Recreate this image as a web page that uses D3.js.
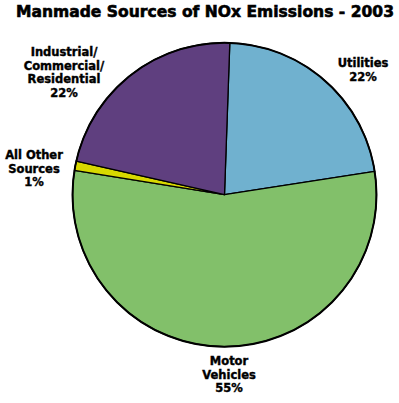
<!DOCTYPE html>
<html>
<head>
<meta charset="utf-8">
<script src="https://cdn.jsdelivr.net/npm/d3@7"></script>
<style>
  body { margin: 0; background: #fff; }
  svg { display: block; font-family: "DejaVu Sans", sans-serif; font-weight: bold; }
</style>
</head>
<body>
<svg id="chart" width="399" height="403"></svg>
<script>
const categories = ['Utilities', 'Motor Vehicles', 'All Other Sources', 'Industrial/Commercial/Residential']
const values = [22, 55, 1, 22]
const labelLines = [
  ['Utilities', '22%'],
  ['Motor', 'Vehicles', '55%'],
  ['All Other', 'Sources', '1%'],
  ['Industrial/', 'Commercial/', 'Residential', '22%']
]
const colors = ['#70b1cf', '#82c06a', '#d8d800', '#5f3f7f']

const svg = d3.select('#chart')
const cx = 224.5, cy = 194.7, r = 152

svg.append('text')
  .attr('x', 205)
  .attr('y', 17)
  .attr('text-anchor', 'middle')
  .attr('font-size', '15.5px')
  .attr('stroke', '#000')
  .attr('stroke-width', 0.6)
  .attr('textLength', 378)
  .attr('lengthAdjust', 'spacingAndGlyphs')
  .text('Manmade Sources of NOx Emissions - 2003')

const pie = d3.pie().sort(null).startAngle(0.035).endAngle(0.035 + 2 * Math.PI)
const arc = d3.arc().innerRadius(0).outerRadius(r)
const arcs = pie(values)

const g = svg.append('g').attr('transform', `translate(${cx},${cy})`)

g.selectAll('path.slice')
  .data(arcs)
  .join('path')
  .attr('class', 'slice')
  .attr('d', arc)
  .attr('fill', (d, i) => colors[i])
  .attr('stroke', '#000')
  .attr('stroke-width', 1.3)
  .attr('stroke-linejoin', 'round')

g.append('circle')
  .attr('r', r)
  .attr('fill', 'none')
  .attr('stroke', '#000')
  .attr('stroke-width', 2)

// label anchors (centre x, first baseline) for each slice
const labelPos = [
  { x: 363, y: 67 },
  { x: 229, y: 365 },
  { x: 34, y: 159 },
  { x: 64, y: 56 }
]

labelLines.forEach((lines, i) => {
  const t = svg.append('text')
    .attr('text-anchor', 'middle')
    .attr('font-size', '11.5px')
    .attr('stroke', '#000')
    .attr('stroke-width', 0.4)
  lines.forEach((line, j) => {
    t.append('tspan')
      .attr('x', labelPos[i].x)
      .attr('y', labelPos[i].y + j * 13.6)
      .text(line)
  })
})
</script>
</body>
</html>
